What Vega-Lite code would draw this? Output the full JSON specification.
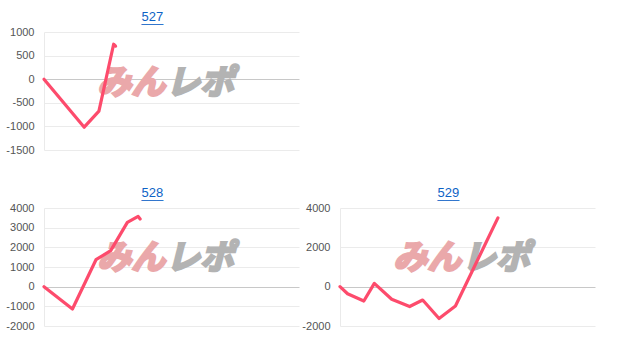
{
  "$schema": "https://vega.github.io/schema/vega-lite/v6.json",
  "padding": {"left": 5, "top": 11, "right": 5, "bottom": 5},
  "background": "white",
  "config": {
    "view": {"stroke": null},
    "axis": {
      "labelFont": "Liberation Sans",
      "labelFontSize": 11,
      "labelColor": "#555",
      "labelPadding": 10,
      "labelOverlap": false,
      "labelFlush": false,
      "labelExpr": "'' + datum.value",
      "tickCount": 20,
      "ticks": false,
      "domainColor": "#eaeaea",
      "gridColor": {"condition": {"test": "datum.value === 0", "value": "#c8c8c8"}, "value": "#ebebeb"},
      "title": null
    },
    "title": {"font": "Liberation Sans", "fontSize": 13, "fontWeight": "normal", "color": "#0d63c6", "frame": "bounds", "anchor": "middle", "offset": 1, "lineHeight": 1}
  },
  "datasets": {
    "s527": [{"x": 0, "y": 0}, {"x": 41, "y": -1017}, {"x": 56, "y": -678}, {"x": 71, "y": 741}, {"x": 73, "y": 700}],
    "s528": [{"x": 0, "y": 0}, {"x": 29, "y": -1135}, {"x": 53, "y": 1370}, {"x": 68, "y": 1830}, {"x": 85, "y": 3270}, {"x": 96, "y": 3575}, {"x": 98, "y": 3440}],
    "s529": [{"x": 0, "y": 0}, {"x": 7.7, "y": -360}, {"x": 24.3, "y": -730}, {"x": 35, "y": 170}, {"x": 52.7, "y": -640}, {"x": 71, "y": -1010}, {"x": 84.3, "y": -680}, {"x": 101, "y": -1620}, {"x": 117.7, "y": -980}, {"x": 161, "y": 3500}],
    "w527": [{"x": 89, "y": -100, "t": "みん"}, {"x": 159, "y": -100, "t": "レポ"}],
    "w528": [{"x": 89, "y": 1410, "t": "みん"}, {"x": 159, "y": 1410, "t": "レポ"}]
  },
  "vconcat": [
    {
      "width": 255, "height": 118,
      "title": {"text": ["527", "___"]},
      "layer": [
        {
          "data": {"name": "w527"},
          "mark": {"type": "text", "font": "Noto Sans CJK JP", "fontWeight": "bold", "fontStyle": "italic", "fontSize": 34, "baseline": "middle", "strokeWidth": 2.5},
          "encoding": {
            "x": {"field": "x", "type": "quantitative", "scale": {"domain": [0, 255]}, "axis": null},
            "y": {"field": "y", "type": "quantitative", "scale": {"domain": [-1500, 1000], "nice": false}, "axis": {"values": [-1500, -1000, -500, 0, 500, 1000]}},
            "text": {"field": "t"},
            "color": {"field": "t", "type": "nominal", "scale": {"domain": ["みん", "レポ"], "range": ["#eaa8aa", "#b3b3b3"]}, "legend": null},
            "stroke": {"field": "t", "type": "nominal", "scale": {"domain": ["みん", "レポ"], "range": ["#eaa8aa", "#b3b3b3"]}, "legend": null}
          }
        },
        {
          "data": {"name": "s527"},
          "mark": {"type": "line", "color": "#fd4b6c", "strokeWidth": 3.2, "strokeCap": "round", "strokeJoin": "round"},
          "encoding": {
            "x": {"field": "x", "type": "quantitative"},
            "y": {"field": "y", "type": "quantitative"}
          }
        }
      ]
    },
    {
      "spacing": 2,
      "hconcat": [
        {
          "width": 255, "height": 118,
          "title": {"text": ["528", "___"]},
          "layer": [
            {
              "data": {"name": "w528"},
              "mark": {"type": "text", "font": "Noto Sans CJK JP", "fontWeight": "bold", "fontStyle": "italic", "fontSize": 34, "baseline": "middle", "strokeWidth": 2.5},
              "encoding": {
                "x": {"field": "x", "type": "quantitative", "scale": {"domain": [0, 255]}, "axis": null},
                "y": {"field": "y", "type": "quantitative", "scale": {"domain": [-2000, 4000], "nice": false}, "axis": {"values": [-2000, -1000, 0, 1000, 2000, 3000, 4000]}},
                "text": {"field": "t"},
                "color": {"field": "t", "type": "nominal", "scale": {"domain": ["みん", "レポ"], "range": ["#eaa8aa", "#b3b3b3"]}, "legend": null},
                "stroke": {"field": "t", "type": "nominal", "scale": {"domain": ["みん", "レポ"], "range": ["#eaa8aa", "#b3b3b3"]}, "legend": null}
              }
            },
            {
              "data": {"name": "s528"},
              "mark": {"type": "line", "color": "#fd4b6c", "strokeWidth": 3.2, "strokeCap": "round", "strokeJoin": "round"},
              "encoding": {
                "x": {"field": "x", "type": "quantitative"},
                "y": {"field": "y", "type": "quantitative"}
              }
            }
          ]
        },
        {
          "width": 255, "height": 118,
          "title": {"text": ["529", "___"]},
          "layer": [
            {
              "data": {"name": "w528"},
              "mark": {"type": "text", "font": "Noto Sans CJK JP", "fontWeight": "bold", "fontStyle": "italic", "fontSize": 34, "baseline": "middle", "strokeWidth": 2.5},
              "encoding": {
                "x": {"field": "x", "type": "quantitative", "scale": {"domain": [0, 255]}, "axis": null},
                "y": {"field": "y", "type": "quantitative", "scale": {"domain": [-2000, 4000], "nice": false}, "axis": {"values": [-2000, 0, 2000, 4000]}},
                "text": {"field": "t"},
                "color": {"field": "t", "type": "nominal", "scale": {"domain": ["みん", "レポ"], "range": ["#eaa8aa", "#b3b3b3"]}, "legend": null},
                "stroke": {"field": "t", "type": "nominal", "scale": {"domain": ["みん", "レポ"], "range": ["#eaa8aa", "#b3b3b3"]}, "legend": null}
              }
            },
            {
              "data": {"name": "s529"},
              "mark": {"type": "line", "color": "#fd4b6c", "strokeWidth": 3.2, "strokeCap": "round", "strokeJoin": "round"},
              "encoding": {
                "x": {"field": "x", "type": "quantitative"},
                "y": {"field": "y", "type": "quantitative"}
              }
            }
          ]
        }
      ]
    }
  ],
  "spacing": 32
}
